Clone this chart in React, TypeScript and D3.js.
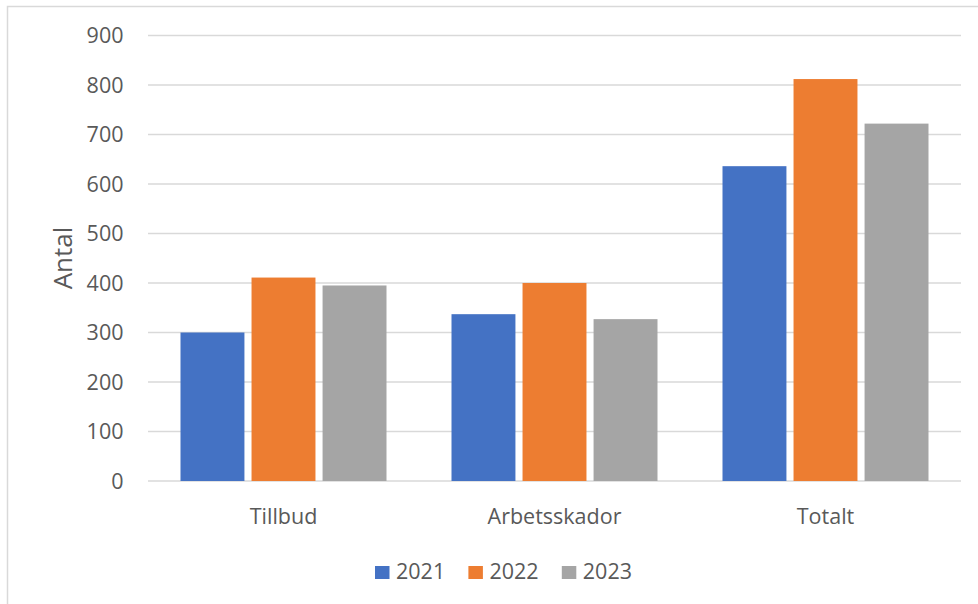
import React from "react";
import * as d3 from "d3";

const categories = ["Tillbud", "Arbetsskador", "Totalt"];
const years = ["2021", "2022", "2023"];
const values2021 = [300, 337, 636];
const values2022 = [411, 400, 812];
const values2023 = [395, 327, 722];
const yTicks = [0, 100, 200, 300, 400, 500, 600, 700, 800, 900];
const colors = ["#4472C4", "#ED7D31", "#A5A5A5"];

const W = 978;
const H = 604;
const FONT = "'Open Sans', 'Noto Sans', sans-serif";

export default function App() {
  const series = [values2021, values2022, values2023];
  const plotLeft = 148;
  const plotRight = 961;
  const y = d3.scaleLinear().domain([0, 900]).range([481, 35.5]);
  const x0 = d3.scaleBand<string>().domain(categories).range([plotLeft, plotRight]).padding(0);
  const bw = x0.bandwidth();
  const x1 = d3
    .scaleBand<string>()
    .domain(years)
    .range([32.5, bw - 32.5])
    .paddingInner(0.1)
    .paddingOuter(0);

  const legendX = d3.scaleBand<string>().domain(years).range([375, 375 + 3 * 93.4]);

  return (
    <svg
      width={W}
      height={H}
      style={{ position: "absolute", left: 0, top: 0, background: "#fff" }}
    >
      <rect x={0} y={0} width={W} height={H} fill="#fff" />
      <rect
        x={7.5}
        y={6.5}
        width={W + 10}
        height={H + 10}
        fill="none"
        stroke="#d9d9d9"
        strokeWidth={1.5}
      />
      {yTicks.map((t) => (
        <g key={t}>
          <line
            x1={plotLeft}
            x2={plotRight}
            y1={y(t)}
            y2={y(t)}
            stroke="#d9d9d9"
            strokeWidth={1.5}
          />
          <text
            x={123.5}
            y={y(t)}
            dy="0.36em"
            textAnchor="end"
            fontFamily={FONT}
            fontSize={21.5}
            fill="#595959"
          >
            {t}
          </text>
        </g>
      ))}
      {categories.map((c, ci) => (
        <g key={c} transform={`translate(${x0(c)},0)`}>
          {years.map((yr, si) => (
            <rect
              key={yr}
              x={x1(yr)}
              y={y(series[si][ci])}
              width={x1.bandwidth()}
              height={y(0) - y(series[si][ci])}
              fill={colors[si]}
            />
          ))}
          <text
            x={bw / 2}
            y={523.5}
            textAnchor="middle"
            fontFamily={FONT}
            fontSize={21.5}
            fill="#595959"
          >
            {c}
          </text>
        </g>
      ))}
      <text
        transform={`translate(71.5,258) rotate(-90)`}
        textAnchor="middle"
        fontFamily={FONT}
        fontSize={26}
        fill="#595959"
      >
        Antal
      </text>
      {years.map((yr, si) => (
        <g key={yr} transform={`translate(${legendX(yr)},0)`}>
          <rect x={0} y={566} width={14.5} height={13} fill={colors[si]} />
          <text
            x={21}
            y={578.5}
            fontFamily={FONT}
            fontSize={21.5}
            fill="#595959"
          >
            {yr}
          </text>
        </g>
      ))}
    </svg>
  );
}
